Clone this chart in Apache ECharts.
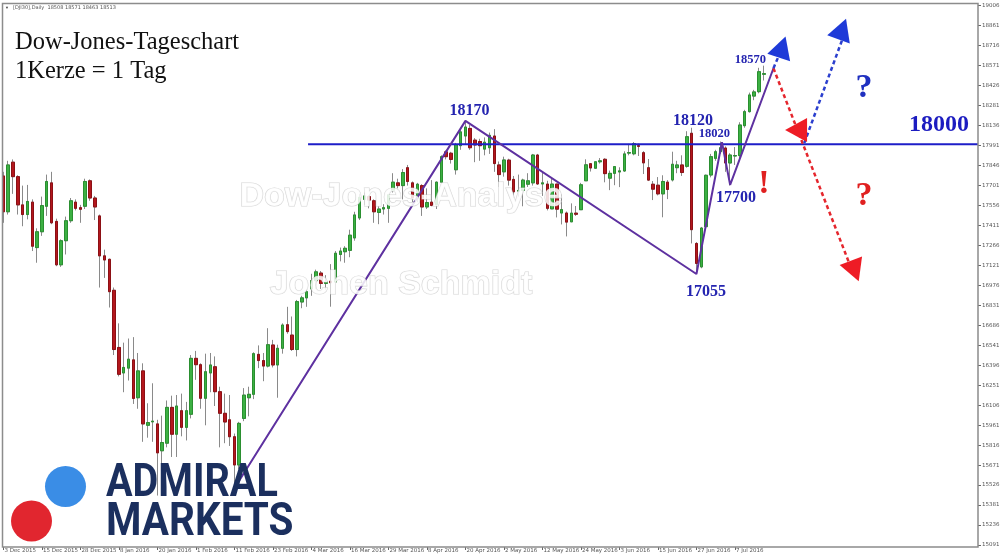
<!DOCTYPE html>
<html>
<head>
<meta charset="utf-8">
<title>Dow-Jones-Tageschart</title>
<script src="https://cdn.jsdelivr.net/npm/echarts@6.0.0/dist/echarts.min.js"></script>
<style>
html,body{margin:0;padding:0;background:#ffffff;}
#chart{width:1000px;height:560px;}
</style>
</head>
<body>
<div id="chart"></div>
<script>
// ---------------- DATA ----------------
const symbolName = '[DJI30],Daily';
const dates = [
"3 Dec 2015","4 Dec 2015","7 Dec 2015","8 Dec 2015","9 Dec 2015","10 Dec 2015","11 Dec 2015","14 Dec 2015","15 Dec 2015","16 Dec 2015","17 Dec 2015","18 Dec 2015","21 Dec 2015","22 Dec 2015","23 Dec 2015","24 Dec 2015","28 Dec 2015","29 Dec 2015","30 Dec 2015","31 Dec 2015",
"4 Jan 2016","5 Jan 2016","6 Jan 2016","7 Jan 2016","8 Jan 2016","11 Jan 2016","12 Jan 2016","13 Jan 2016","14 Jan 2016","15 Jan 2016","18 Jan 2016","19 Jan 2016","20 Jan 2016","21 Jan 2016","22 Jan 2016","25 Jan 2016","26 Jan 2016","27 Jan 2016","28 Jan 2016","29 Jan 2016",
"1 Feb 2016","2 Feb 2016","3 Feb 2016","4 Feb 2016","5 Feb 2016","8 Feb 2016","9 Feb 2016","10 Feb 2016","11 Feb 2016","12 Feb 2016","15 Feb 2016","16 Feb 2016","17 Feb 2016","18 Feb 2016","19 Feb 2016","22 Feb 2016","23 Feb 2016","24 Feb 2016","25 Feb 2016","26 Feb 2016","29 Feb 2016",
"1 Mar 2016","2 Mar 2016","3 Mar 2016","4 Mar 2016","7 Mar 2016","8 Mar 2016","9 Mar 2016","10 Mar 2016","11 Mar 2016","14 Mar 2016","15 Mar 2016","16 Mar 2016","17 Mar 2016","18 Mar 2016","21 Mar 2016","22 Mar 2016","23 Mar 2016","24 Mar 2016","28 Mar 2016","29 Mar 2016","30 Mar 2016","31 Mar 2016",
"1 Apr 2016","4 Apr 2016","5 Apr 2016","6 Apr 2016","7 Apr 2016","8 Apr 2016","11 Apr 2016","12 Apr 2016","13 Apr 2016","14 Apr 2016","15 Apr 2016","18 Apr 2016","19 Apr 2016","20 Apr 2016","21 Apr 2016","22 Apr 2016","25 Apr 2016","26 Apr 2016","27 Apr 2016","28 Apr 2016","29 Apr 2016",
"2 May 2016","3 May 2016","4 May 2016","5 May 2016","6 May 2016","9 May 2016","10 May 2016","11 May 2016","12 May 2016","13 May 2016","16 May 2016","17 May 2016","18 May 2016","19 May 2016","20 May 2016","23 May 2016","24 May 2016","25 May 2016","26 May 2016","27 May 2016","30 May 2016","31 May 2016",
"1 Jun 2016","2 Jun 2016","3 Jun 2016","6 Jun 2016","7 Jun 2016","8 Jun 2016","9 Jun 2016","10 Jun 2016","13 Jun 2016","14 Jun 2016","15 Jun 2016","16 Jun 2016","17 Jun 2016","20 Jun 2016","21 Jun 2016","22 Jun 2016","23 Jun 2016","24 Jun 2016","27 Jun 2016","28 Jun 2016","29 Jun 2016","30 Jun 2016",
"1 Jul 2016","4 Jul 2016","5 Jul 2016","6 Jul 2016","7 Jul 2016","8 Jul 2016","11 Jul 2016","12 Jul 2016","13 Jul 2016","14 Jul 2016","15 Jul 2016"
];
const open = [
17770,17510,17870,17765,17560,17490,17580,17250,17365,17550,
17720,17440,17125,17300,17445,17580,17540,17550,17735,17610,
17480,17190,17165,16940,16525,16340,16375,16435,16160,16355,
15960,15985,15970,15775,15830,16090,15895,16066,15945,16040,
16446,16400,16156,16340,16385,16204,16047,16000,15877,15672,
16010,16160,16185,16475,16430,16390,16543,16398,16519,16690,
16615,16510,16855,16885,16950,17010,17065,16990,17006,17000,
17200,17220,17230,17320,17465,17600,17620,17590,17505,17530,
17535,17665,17720,17700,17830,17720,17605,17700,17545,17580,
17560,17725,17945,17935,17815,17990,18060,18115,18030,18020,
17965,17975,18060,17850,17800,17885,17745,17660,17665,17710,
17720,17922,17712,17711,17531,17711,17501,17501,17437,17500,
17525,17735,17859,17826,17873,17891,17754,17789,17799,17806,
17936,17931,17990,17939,17830,17710,17703,17640,17725,17741,
17830,17850,17840,18080,17280,17110,17402,17777,17898,17946,
17973,17864,17915,17918,18135,18237,18350,18382,18508
];
const high = [
17800,17880,17890,17775,17700,17705,17600,17390,17620,17780,
17800,17460,17310,17475,17610,17600,17560,17750,17745,17625,
17490,17235,17170,16960,16700,16560,16590,16600,16485,16410,
16120,16265,16000,16030,16140,16175,16180,16190,16130,16470,
16500,16410,16480,16485,16460,16240,16190,16180,15900,15985,
16230,16240,16490,16540,16485,16665,16580,16545,16700,16820,
16750,16870,16900,16950,17060,17090,17080,17050,17130,17225,
17250,17260,17380,17510,17640,17650,17630,17600,17550,17565,
17640,17790,17750,17820,17850,17730,17720,17710,17680,17740,
17730,17920,17955,17945,18010,18110,18170,18140,18045,18040,
18050,18085,18110,17875,17910,17895,17770,17780,17750,17790,
17930,17930,17800,17735,17755,17712,17636,17512,17571,17552,
17720,17891,17860,17873,17900,17899,17809,17838,17833,17949,
18003,18016,18005,17950,17893,17733,17762,17775,17740,17946,
17880,17920,18095,18120,17290,17400,17780,17930,17960,18020,
17985,17935,17980,18160,18250,18375,18395,18555,18571
];
const low = [
17430,17490,17640,17490,17405,17455,17225,17140,17335,17480,
17420,17115,17110,17200,17430,17520,17430,17530,17590,17450,
16960,17030,16815,16470,16315,16200,16285,16115,16080,15840,
15870,15840,15450,15620,15800,15730,15730,15880,15850,16010,
16290,16080,15960,16200,16100,15800,15830,15810,15503,15640,
15990,16025,16150,16375,16280,16380,16380,16160,16480,16625,
16500,16460,16810,16820,16900,16950,16950,16945,16821,16995,
17150,17140,17180,17300,17450,17560,17535,17430,17420,17490,
17430,17650,17680,17600,17700,17580,17580,17480,17530,17550,
17530,17720,17890,17860,17780,17960,18000,17960,17870,17880,
17920,17930,17800,17690,17765,17700,17610,17620,17550,17690,
17700,17705,17625,17520,17531,17469,17418,17331,17437,17480,
17525,17735,17802,17823,17860,17724,17667,17703,17689,17800,
17920,17920,17915,17784,17733,17595,17629,17470,17602,17730,
17790,17770,17830,17280,17058,17100,17390,17760,17880,17930,
17800,17700,17850,17900,18120,18230,18320,18370,18463
];
const close = [
17510,17850,17765,17560,17490,17585,17260,17365,17555,17730,
17430,17125,17300,17445,17590,17535,17528,17730,17610,17545,
17190,17160,16930,16510,16330,16380,16440,16155,16355,15970,
15980,15990,15760,15835,16090,15895,16100,15945,16066,16446,
16400,16156,16349,16398,16204,16047,15984,15877,15672,15974,
16179,16185,16480,16430,16390,16545,16398,16519,16688,16640,
16510,16858,16885,16930,17010,17074,16990,17000,16995,17209,
17225,17245,17340,17487,17615,17625,17595,17510,17530,17540,
17633,17725,17700,17795,17730,17610,17710,17545,17577,17556,
17725,17910,17910,17890,17997,18090,18125,17975,17995,17990,
18015,18065,17860,17780,17886,17740,17655,17665,17740,17735,
17922,17712,17720,17535,17711,17529,17526,17435,17500,17492,
17706,17851,17828,17873,17880,17787,17789,17838,17807,17930,
17940,18005,17985,17865,17740,17674,17640,17730,17672,17855,
17850,17795,18055,17380,17135,17392,17775,17910,17946,17975,
17864,17922,17918,18140,18237,18358,18380,18527,18513
];
// right-hand price scale labels (bottom to top)
const priceTicks = [15091,15236,15381,15526,15671,15816,15961,16106,16251,16396,16541,16686,16831,16976,
  17121,17266,17411,17556,17701,17846,17991,18136,18281,18426,18571,18716,18861,19006];
// chart shift: empty slots to the right of the last bar
const totalSlots = 203;

// analysis drawing (bar index, price)
const waveLine = [[48,15503],[96,18170],[144,17058],[149.3,18015],[151,17705],[160,18552]];
const resistanceLevel = 18000;
const resistanceFrom = 63.3;
const redScenario = [[160,18552],[176.3,17087]];
const blueShort = [[160,18552],[161.2,18650]];
const blueLong = [[166.4,18009],[174.5,18779]];
const blueArrowHeads = [[161.8,18706,-18],[174.3,18837,-20]];
const redArrowHeads = [[164.7,18103,90],[176.9,17080,201]];
const pivotLabels = [[96.84,18241,'18170'],[143.3,18169,'18120'],[152.2,17614,'17700'],[146.0,16932,'17055']];
const smallPivotLabels = [[147.7,18075,'18020'],[155.2,18612,'18570']];
const levelLabel = [[194.4,18141,'18000']];
const blueMarks = [[178.8,18408,'?']];
const redMarks = [[178.8,17624,'?'],[158.0,17711,'!']];

// ---------------- BUILD ----------------
const last = dates.length - 1;
const categories = dates.concat(new Array(totalSlots - dates.length).fill(''));
const wickData = dates.map((d, i) => [open[i], close[i], low[i], high[i]]);
const bodyData = dates.map((d, i) => [open[i], close[i], Math.min(open[i], close[i]), Math.max(open[i], close[i])]);
const labelShown = (idx, val) => val !== '' && idx % 8 === 0;

function textSeries(name, pts, size, color, family) {
  return {
    name, type: 'scatter', xAxisIndex: 1, yAxisIndex: 0, silent: true, z: 20,
    symbol: 'circle', symbolSize: 1, itemStyle: {color: 'rgba(0,0,0,0)', opacity: 1},
    data: pts.map(p => ({value: [p[0], p[1]], name: p[2]})),
    label: {show: true, position: 'inside', formatter: '{b}', color: color, opacity: 1,
      fontFamily: family || '"Liberation Serif", "Times New Roman", serif', fontWeight: 'bold', fontSize: size}
  };
}
function dashed(name, pts, color) {
  return {name, type: 'line', xAxisIndex: 1, yAxisIndex: 0, data: pts, symbol: 'none', silent: true, z: 12,
    lineStyle: {color: color, width: 2.5, type: [4, 3]}};
}
function heads(name, pts, color) {
  return {name, type: 'scatter', xAxisIndex: 1, yAxisIndex: 0, silent: true, z: 13,
    symbol: 'triangle', symbolSize: [24, 22],
    data: pts.map(p => ({value: [p[0], p[1]], symbolRotate: p[2]})),
    itemStyle: {color: color, opacity: 1}};
}

const chart = echarts.init(document.getElementById('chart'), null, {renderer: 'canvas'});
const option = {
  animation: false,
  backgroundColor: '#ffffff',
  grid: {left: 1, right: 22, top: 5.7, bottom: 15, containLabel: false, outerBoundsMode: 'none'},
  xAxis: [
    {type: 'category', data: categories, boundaryGap: true, offset: 2,
      axisLine: {show: false},
      axisTick: {show: true, alignWithLabel: true, interval: labelShown, length: 3, lineStyle: {color: '#666'}},
      axisLabel: {interval: labelShown, align: 'left', margin: 1, fontSize: 5.5, color: '#555',
        fontFamily: '"DejaVu Sans", sans-serif', padding: [0, 0, 0, 1]},
      splitLine: {show: false}},
    {type: 'value', min: -0.5, max: totalSlots - 0.5, show: false}
  ],
  yAxis: [
    {type: 'value', min: priceTicks[0], max: priceTicks[priceTicks.length - 1], show: false, scale: true},
    {type: 'category', data: priceTicks.map(String), boundaryGap: false, position: 'right',
      axisLine: {show: false},
      axisTick: {show: true, interval: 0, length: 3, lineStyle: {color: '#666'}},
      axisLabel: {interval: 0, margin: 4, fontSize: 5.5, color: '#555', fontFamily: '"DejaVu Sans", sans-serif'},
      splitLine: {show: false}}
  ],
  series: [
    {name: 'wick', type: 'candlestick', xAxisIndex: 0, yAxisIndex: 0, data: wickData, barWidth: 3, silent: true,
      itemStyle: {color: 'rgba(0,0,0,0)', color0: 'rgba(0,0,0,0)', borderColor: '#8a8a8a', borderColor0: '#8a8a8a', borderWidth: 1},
      markLine: {silent: true, symbol: 'none', animation: false,
        lineStyle: {opacity: 0},
        data: [{yAxis: close[last]}],
        label: {show: true, position: 'end', distance: 1, formatter: String(close[last]), color: '#fff',
          backgroundColor: '#000', fontSize: 5.5, padding: [1, 2, 0, 2], fontFamily: '"DejaVu Sans", sans-serif'}}},
    {name: 'body', type: 'candlestick', xAxisIndex: 0, yAxisIndex: 0, data: bodyData, barWidth: 3, silent: true,
      itemStyle: {color: '#3cb043', color0: '#b3171d', borderColor: '#2a8f30', borderColor0: '#8c1015', borderWidth: 1}},
    {name: 'level', type: 'line', xAxisIndex: 1, yAxisIndex: 0, symbol: 'none', silent: true, z: 11,
      data: [[resistanceFrom, resistanceLevel], [totalSlots - 0.5, resistanceLevel]],
      lineStyle: {color: '#1e1ec8', width: 2}},
    {name: 'wave', type: 'line', xAxisIndex: 1, yAxisIndex: 0, symbol: 'none', silent: true, z: 11,
      data: waveLine, lineStyle: {color: '#5e31a0', width: 2}},
    dashed('redScenario', redScenario, '#e5262d'),
    dashed('blueShort', blueShort, '#2b3fce'),
    dashed('blueLong', blueLong, '#2b3fce'),
    heads('blueHeads', blueArrowHeads, '#1e3ad8'),
    heads('redHeads', redArrowHeads, '#ee1c25'),
    textSeries('pivots', pivotLabels, 16, '#2424b0'),
    textSeries('pivotsSmall', smallPivotLabels, 12.5, '#2424b0'),
    textSeries('levelLabel', levelLabel, 24, '#1c1cc0'),
    textSeries('blueMarks', blueMarks, 34, '#1f30c0'),
    textSeries('redMarks', redMarks, 34, '#e02020')
  ],
  graphic: [
    {type: 'rect', z: 50, silent: true, shape: {x: 2.5, y: 3.5, width: 975.5, height: 543.5},
      style: {fill: 'none', stroke: '#8c8c8c', lineWidth: 1.5}},
    {type: 'text', z: 100, x: 7, y: 8, silent: true,
      style: {text: '\u25BC', fontSize: 4, fill: '#444', align: 'center', verticalAlign: 'middle'}},
    {type: 'text', z: 100, x: 13, y: 8, silent: true,
      style: {text: symbolName + '  ' + [open[last], high[last], low[last], close[last]].join(' '),
        fontSize: 5, fontFamily: '"DejaVu Sans", sans-serif', fill: '#555', align: 'left', verticalAlign: 'middle'}},
    {type: 'text', z: 100, x: 15, y: 43, silent: true,
      style: {text: 'Dow-Jones-Tageschart', fontSize: 24.5, fontFamily: '"Liberation Serif", "Times New Roman", serif',
        fill: '#111', align: 'left', verticalAlign: 'middle'}},
    {type: 'text', z: 100, x: 15, y: 72, silent: true,
      style: {text: '1Kerze = 1 Tag', fontSize: 24.5, fontFamily: '"Liberation Serif", "Times New Roman", serif',
        fill: '#111', align: 'left', verticalAlign: 'middle'}},
    {type: 'text', z: 90, x: 401, y: 197, silent: true,
      style: {text: 'Dow-Jones-Analyse', fontSize: 34, fontWeight: 'bold', fontFamily: '"Liberation Sans", Arial, sans-serif',
        fill: 'rgba(255,255,255,0.85)', stroke: 'rgba(200,200,200,0.75)', lineWidth: 1.2, align: 'center', verticalAlign: 'middle'}},
    {type: 'text', z: 90, x: 401, y: 285, silent: true,
      style: {text: 'Jochen Schmidt', fontSize: 34, fontWeight: 'bold', fontFamily: '"Liberation Sans", Arial, sans-serif',
        fill: 'rgba(255,255,255,0.85)', stroke: 'rgba(200,200,200,0.75)', lineWidth: 1.2, align: 'center', verticalAlign: 'middle'}},
    {type: 'circle', z: 100, silent: true, shape: {cx: 65.5, cy: 486.5, r: 20.5}, style: {fill: '#3a8de6'}},
    {type: 'circle', z: 100, silent: true, shape: {cx: 31.5, cy: 521, r: 20.5}, style: {fill: '#e1262f'}},
    {type: 'text', z: 100, x: 106, y: 484, scaleX: 0.86, silent: true,
      style: {text: 'ADMIRAL', fontSize: 46, fontWeight: 'bold', fontFamily: 'Roboto, "Open Sans", sans-serif',
        fill: '#1b2f5e', align: 'left', verticalAlign: 'middle'}},
    {type: 'text', z: 100, x: 106, y: 523, scaleX: 0.88, silent: true,
      style: {text: 'MARKETS', fontSize: 46, fontWeight: 'bold', fontFamily: 'Roboto, "Open Sans", sans-serif',
        fill: '#1b2f5e', align: 'left', verticalAlign: 'middle'}}
  ]
};
chart.setOption(option);
</script>
</body>
</html>
